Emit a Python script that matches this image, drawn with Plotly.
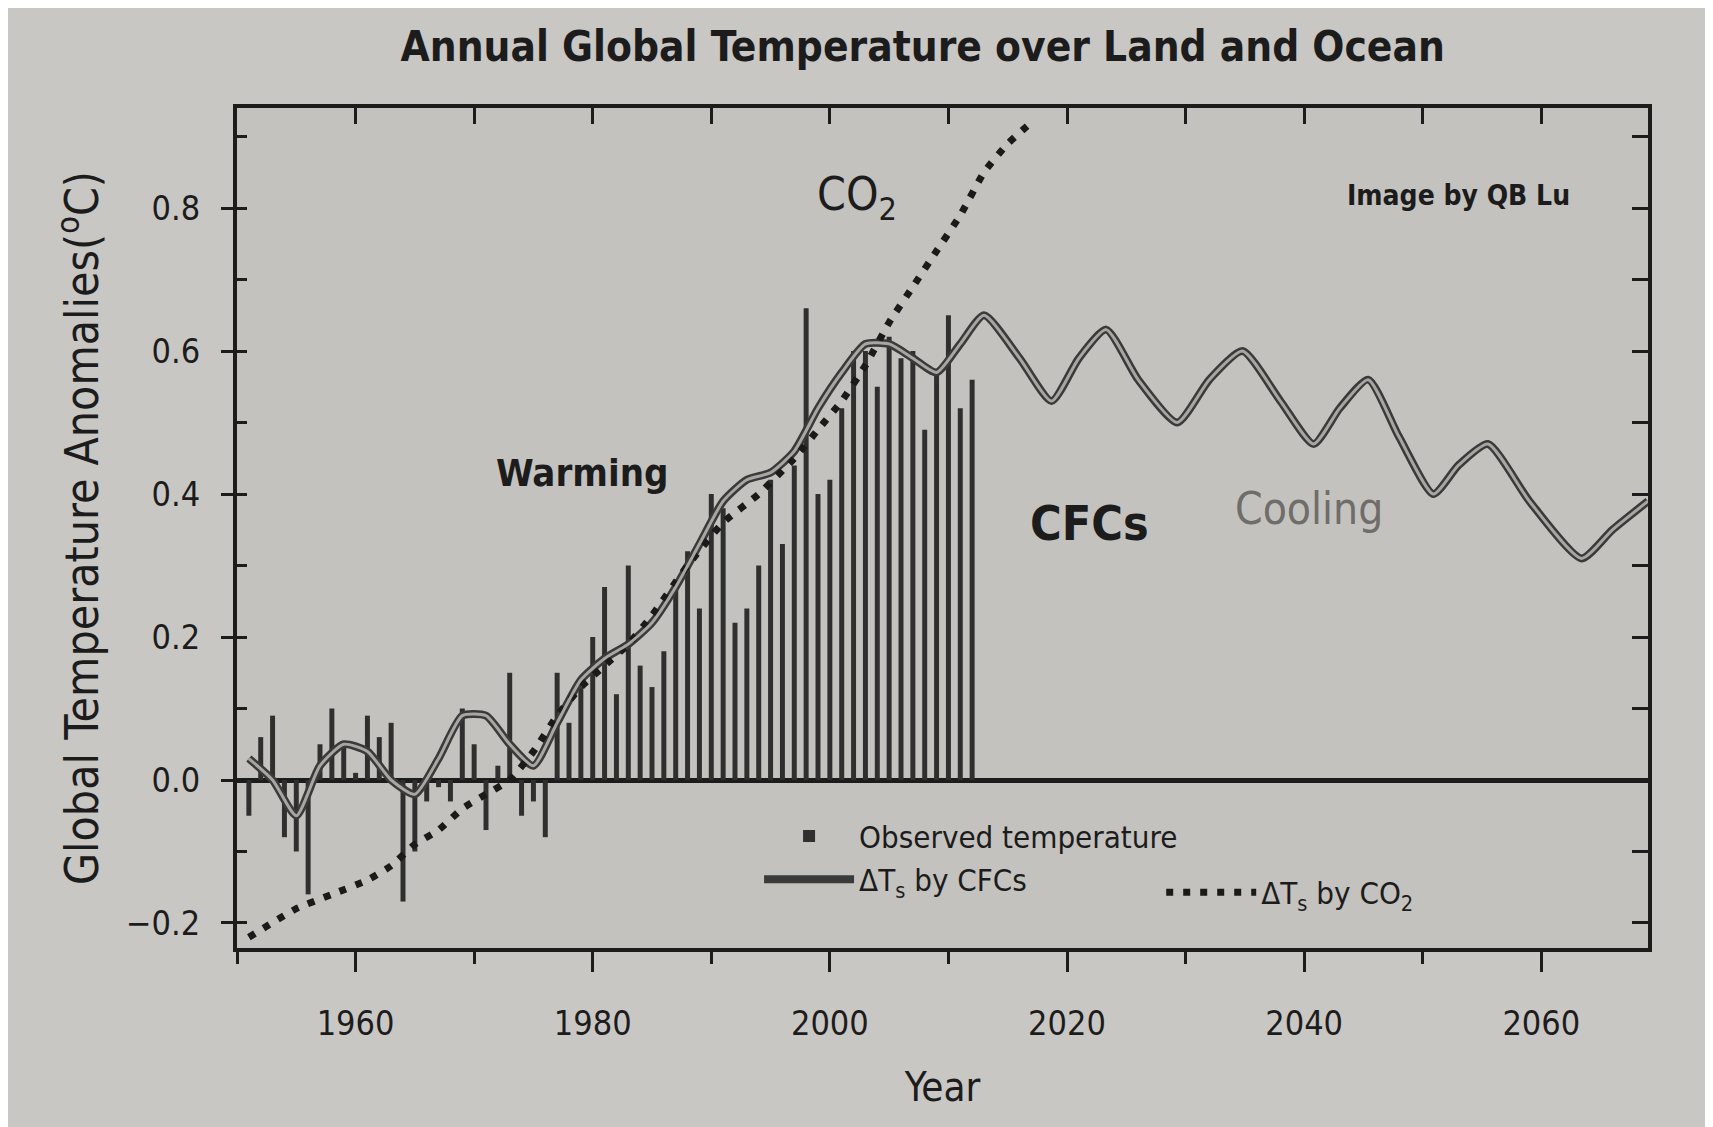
import plotly.graph_objects as go

# ---------------- data ----------------
obs_years = list(range(1951, 2013))
obs_vals = [-0.05, 0.06, 0.09, -0.08, -0.10, -0.16, 0.05, 0.10, 0.05, 0.01,
            0.09, 0.06, 0.08, -0.17, -0.10, -0.03, -0.01, -0.03, 0.10, 0.05,
            -0.07, 0.02, 0.15, -0.05, -0.03, -0.08, 0.15, 0.08, 0.13, 0.20,
            0.27, 0.12, 0.30, 0.16, 0.13, 0.18, 0.28, 0.32, 0.24, 0.40,
            0.38, 0.22, 0.24, 0.30, 0.42, 0.33, 0.44, 0.66, 0.40, 0.42,
            0.52, 0.60, 0.60, 0.55, 0.62, 0.59, 0.60, 0.49, 0.57, 0.65,
            0.52, 0.56]

cfc_years = [1951, 1953, 1955, 1957, 1959, 1961, 1963, 1965, 1967, 1969,
             1971, 1973, 1975, 1977, 1979, 1981, 1983, 1985, 1987, 1989,
             1991, 1993, 1995, 1997, 1999, 2001, 2003, 2005, 2007, 2009,
             2011, 2013, 2016, 2018.7, 2021, 2023.3, 2026, 2029.3, 2032,
             2034.8, 2038, 2040.8, 2043, 2045.4, 2048, 2050.9, 2053, 2055.5,
             2059, 2063.4, 2066, 2069]
cfc_vals = [0.03, 0.00, -0.05, 0.02, 0.05, 0.04, 0.00, -0.02, 0.03, 0.09,
            0.09, 0.05, 0.02, 0.08, 0.14, 0.17, 0.19, 0.22, 0.27, 0.33,
            0.39, 0.42, 0.43, 0.46, 0.52, 0.57, 0.61, 0.61, 0.59, 0.57,
            0.61, 0.65, 0.59, 0.53, 0.59, 0.63, 0.56, 0.50, 0.56,
            0.60, 0.53, 0.47, 0.52, 0.56, 0.48, 0.40, 0.44, 0.47,
            0.39, 0.31, 0.35, 0.39]

co2_years = [1951, 1955, 1958, 1961, 1963, 1965, 1967, 1969, 1971, 1973,
             1975, 1977, 1979, 1981, 1983, 1985, 1988, 1991, 1994, 1997,
             1999, 2001, 2003, 2005, 2007, 2009, 2011, 2013, 2015, 2017]
co2_vals = [-0.22, -0.18, -0.16, -0.14, -0.12, -0.09, -0.07, -0.04, -0.02, 0.00,
            0.04, 0.09, 0.13, 0.16, 0.19, 0.23, 0.30, 0.36, 0.40, 0.45,
            0.49, 0.53, 0.58, 0.64, 0.69, 0.74, 0.79, 0.85, 0.89, 0.92]

x_ticks = [1960, 1980, 2000, 2020, 2040, 2060]
y_ticks = [-0.2, 0.0, 0.2, 0.4, 0.6, 0.8]

X_RANGE = [1950, 2069]
Y_RANGE = [-0.235, 0.94]

FONT = "Liberation Sans Narrow, Arial Narrow, DejaVu Sans Condensed, Liberation Sans, sans-serif"
INK = "#1c1c1c"

fig = go.Figure()

fig.add_trace(go.Bar(
    x=obs_years, y=obs_vals, width=0.42,
    marker=dict(color="#2f2f2f", line=dict(width=0)),
    name="Observed temperature", legend="legend",
))

# dark outline of the CFC curve (legend entry)
fig.add_trace(go.Scatter(
    x=cfc_years, y=cfc_vals, mode="lines",
    line=dict(color="#3a3a3a", width=8, shape="spline", smoothing=0.6),
    name="ΔT<sub>s</sub> by CFCs", legend="legend",
))

fig.add_trace(go.Scatter(
    x=co2_years, y=co2_vals, mode="lines",
    line=dict(color="#1a1a1a", width=7, dash="7px,10px", shape="spline", smoothing=0.5),
    name="ΔT<sub>s</sub> by CO<sub>2</sub>", legend="legend2",
))

# light core of the CFC curve, drawn on overlaid axes so it sits on top
fig.add_trace(go.Scatter(
    x=cfc_years, y=cfc_vals, mode="lines", xaxis="x2", yaxis="y2",
    line=dict(color="#a8a6a3", width=3, shape="spline", smoothing=0.6),
    showlegend=False, hoverinfo="skip",
))

axis_line = dict(showline=True, linecolor=INK, linewidth=4, showgrid=False)

fig.update_layout(
    width=1713, height=1127,
    paper_bgcolor="#c9c7c4", plot_bgcolor="#c4c2bf",
    margin=dict(l=229, r=73, t=100, b=187),
    font=dict(family=FONT, color=INK),
    bargap=0.5,
    title=dict(text="<b>Annual Global Temperature over Land and Ocean</b>",
               x=0.534, xanchor="center", y=0.966, yanchor="middle",
               font=dict(size=42, family=FONT, color=INK)),
    xaxis=dict(range=X_RANGE, tickvals=x_ticks, ticks="outside", ticklen=20,
               tickwidth=3, tickcolor=INK, mirror=True,
               tickfont=dict(size=34, family=FONT), ticklabelstandoff=22,
               minor=dict(dtick=10, tick0=1950, ticks="outside", ticklen=12,
                          tickwidth=3, tickcolor=INK),
               title=dict(text="Year", font=dict(size=40, family=FONT), standoff=32),
               zeroline=False, **axis_line),
    yaxis=dict(range=Y_RANGE, tickvals=y_ticks, tickformat=".1f", ticks="outside",
               ticklen=12, tickwidth=3, tickcolor=INK, mirror=True,
               tickfont=dict(size=34, family=FONT), ticklabelstandoff=14,
               minor=dict(dtick=0.1, tick0=0, ticks="inside", ticklen=10,
                          tickwidth=3, tickcolor=INK),
               title=dict(text="Global Temperature Anomalies(<sup>o</sup>C)",
                          font=dict(size=46, family=FONT), standoff=14),
               zeroline=True, zerolinecolor=INK, zerolinewidth=5, **axis_line),
    xaxis2=dict(range=X_RANGE, overlaying="x", side="top", anchor="y2",
                dtick=10, tick0=1950, ticks="inside", ticklen=16, tickwidth=3,
                tickcolor=INK, showticklabels=False, showgrid=False,
                zeroline=False, showline=False),
    yaxis2=dict(range=Y_RANGE, overlaying="y", side="right", anchor="x2",
                dtick=0.1, tick0=0, ticks="inside", ticklen=16, tickwidth=3,
                tickcolor=INK, showticklabels=False, showgrid=False,
                zeroline=False, showline=False),
    legend=dict(x=0.37, y=0.165, xanchor="left", yanchor="top",
                bgcolor="rgba(0,0,0,0)", font=dict(size=31, family=FONT),
                itemwidth=90, tracegroupgap=0, traceorder="normal"),
    legend2=dict(x=0.655, y=0.098, xanchor="left", yanchor="top",
                 bgcolor="rgba(0,0,0,0)", font=dict(size=31, family=FONT),
                 itemwidth=90),
    showlegend=True,
)

ann = [
    dict(x=1979.1, y=0.43, text="<b>Warming</b>", size=38, color=INK),
    dict(x=2002.3, y=0.815, text="CO<sub>2</sub>", size=46, color=INK),
    dict(x=2021.9, y=0.36, text="<b>CFCs</b>", size=48, color=INK),
    dict(x=2040.4, y=0.38, text="Cooling", size=44, color="#6f6d6a"),
    dict(x=2053.0, y=0.818, text="<b>Image by QB Lu</b>", size=28, color=INK),
]
for a in ann:
    fig.add_annotation(x=a["x"], y=a["y"], xref="x", yref="y", text=a["text"],
                       showarrow=False, xanchor="center", yanchor="middle",
                       font=dict(size=a["size"], color=a["color"], family=FONT))

fig.write_html("out.html")
